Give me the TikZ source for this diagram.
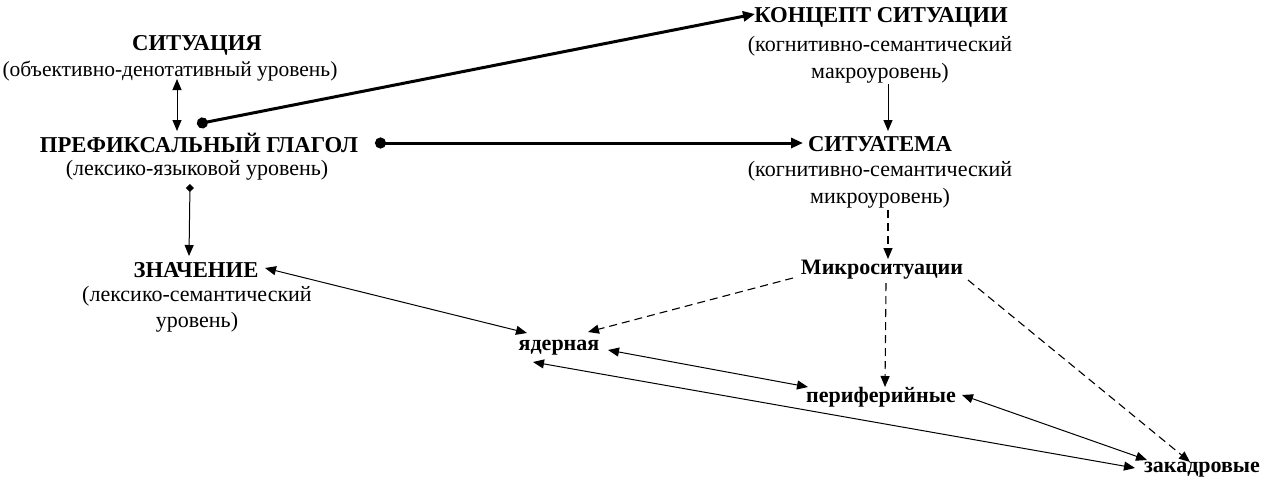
\documentclass[tikz,border=0pt]{standalone}
\usepackage{fontspec}
\setmainfont{Liberation Serif}
\usetikzlibrary{arrows.meta,calc}
\begin{document}
\begin{tikzpicture}[x=1pt,y=-1pt,
  every node/.style={inner sep=0pt,outer sep=0pt},
  ttl/.style={font=\fontsize{22.7}{27}\selectfont\bfseries},
  sub/.style={font=\fontsize{22}{26}\selectfont},
  lbl/.style={font=\fontsize{22}{26}\selectfont\bfseries},
  thinln/.style={line width=1pt},
  thickln/.style={line width=3pt},
  dsh/.style={line width=1.1pt,dash pattern=on 8pt off 5pt},
  tipE/.style={-{Triangle[length=11pt,width=9pt]}},
  tipB/.style={{Triangle[length=11pt,width=9pt]}-{Triangle[length=11pt,width=9pt]}},
  dotT/.style={{Circle[length=11pt]}-{Triangle[length=12pt,width=10pt]}},
  diaT/.style={{Turned Square[length=8pt,width=8pt]}-{Triangle[length=11pt,width=9pt]}}
]
\useasboundingbox (0,0) rectangle (1266,485);

% nodes
\node[ttl] (sit) at (197,45) {СИТУАЦИЯ};
\node[sub,font=\fontsize{21.5}{25}\selectfont] (sits) at (170,71) {(объективно-денотативный уровень)};
\node[ttl] (pv) at (199,143) {ПРЕФИКСАЛЬНЫЙ ГЛАГОЛ};
\node[sub] (pvs) at (197,170) {(лексико-языковой уровень)};
\node[ttl] (zn) at (196,270) {ЗНАЧЕНИЕ};
\node[sub] (zns1) at (197,296) {(лексико-семантический};
\node[sub] (zns2) at (197,322) {уровень)};
\node[ttl] (konc) at (881,17) {КОНЦЕПТ СИТУАЦИИ};
\node[sub] (koncs1) at (880,46) {(когнитивно-семантический};
\node[sub] (koncs2) at (880,73) {макроуровень)};
\node[ttl] (sitm) at (880,144) {СИТУАТЕМА};
\node[sub] (sitms1) at (880,171) {(когнитивно-семантический};
\node[sub] (sitms2) at (880,198) {микроуровень)};
\node[lbl] (micro) at (882,270) {Микроситуации};
\node[lbl] (yad) at (559,348) {ядерная};
\node[lbl] (per) at (881,397) {периферийные};
\node[lbl] (zak) at (1202,470) {закадровые};

% connectors
\draw[thinln,tipB] ($(sits)+(7,8)$) -- ($(pv)+(-22,-12)$);
\draw[thickln,dotT] ($(pv)+(-2,-19)$) -- ($(konc)+(-126,-3)$);
\draw[thickln,dotT] ($(pv)+(176,0)$) -- ($(sitm)+(-77,-1)$);
\draw[thinln,tipE] ($(koncs2)+(8,11)$) -- ($(sitm)+(8,-13)$);
\draw[thinln,diaT] ($(pvs)+(-7,14)$) -- ($(zn)+(-7,-14)$);

\draw[dsh,tipE] ($(sitms2)+(8,12)$) -- ($(micro)+(6,-11)$);
\draw[dsh,tipE] ($(micro)+(-89,8)$) -- ($(yad)+(29,-16)$);
\draw[dsh,tipE] ($(micro)+(4,13)$) -- ($(per)+(4,-10)$);
\draw[dsh,tipE] ($(micro)+(86,10)$) -- ($(zak)+(-12,-8)$);

\draw[thinln,tipB] ($(zn)+(69,-2)$) -- ($(yad)+(-32,-15)$);
\draw[thinln,tipB] ($(yad)+(49,2)$) -- ($(per)+(-73,-10)$);
\draw[thinln,tipB] ($(yad)+(-26,14)$) -- ($(zak)+(-67,-2)$);
\draw[thinln,tipB] ($(per)+(81,-2)$) -- ($(zak)+(-55,-10)$);
\end{tikzpicture}
\end{document}
